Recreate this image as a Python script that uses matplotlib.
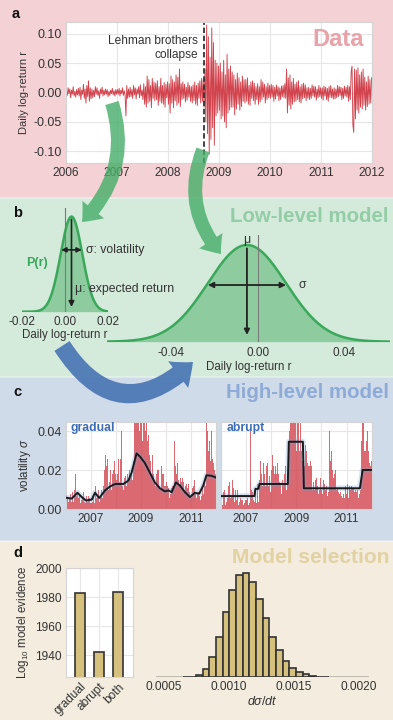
import numpy as np
import matplotlib
matplotlib.use('Agg')
import matplotlib.pyplot as plt
from matplotlib.patches import Rectangle, FancyArrowPatch
from matplotlib.ticker import FormatStrFormatter

plt.rcParams['font.family'] = ['Liberation Sans', 'DejaVu Sans']
plt.rcParams['mathtext.fontset'] = 'custom'
plt.rcParams['mathtext.rm'] = 'Liberation Sans'
plt.rcParams['mathtext.it'] = 'Liberation Sans:italic'
plt.rcParams['axes.unicode_minus'] = True

# ---------------- data ----------------
# daily log-returns (per mille), 15 samples per quarter, 2006 Q1 .. 2011 Q4
returns_permille = [
    3, -5, 8, -2, 6, -9, 4, -3, 10, -6, 2, -8, 5, -4, 7,
    -6, 9, -12, 4, -3, 14, -10, 6, -18, 12, -7, 20, -15, 8, -11,
    6, -9, 4, -7, 10, -3, 8, -5, 3, -10, 6, -2, 9, -6, 4,
    -4, 6, -3, 5, -7, 2, -5, 4, -2, 7, -4, 3, -6, 5, -3,
    5, -3, 7, -6, 4, -2, 8, -5, 3, -4, -40, 12, -10, 6, -8,
    9, -7, 5, -10, 12, -4, 8, -11, 6, -3, 10, -9, 13, -6, 4,
    -12, 15, -20, 10, -25, 28, -18, 22, -15, 12, -26, 24, -10, 18, -14,
    16, -12, 20, -22, 10, -15, 24, -18, 12, -20, 17, -25, 14, -9, 18,
    -20, 15, -35, 28, -18, 22, -26, 18, -14, 30, -22, 26, -18, 40, -24,
    15, -12, 18, -10, 14, -16, 9, -13, 17, -8, 12, -15, 10, -18, 13,
    -14, 18, -20, 12, -22, 16, -10, 20, -18, 24, -15, 22, -25, 40, -50,
    115, -70, 95, -105, 60, -80, 110, -60, 85, -90, 55, -40, 50, -35, 45,
    -30, 50, -45, 35, -40, 55, -50, 30, -60, 65, -35, 40, -30, 45, -25,
    35, -25, 30, -38, 22, -28, 33, -20, 25, -30, 18, -24, 28, -15, 22,
    -18, 22, -15, 25, -20, 12, -22, 18, -10, 20, -14, 16, -20, 10, -12,
    15, -20, 10, -16, 22, -12, 18, -8, 14, -18, 10, -12, 16, -9, 12,
    -10, 14, -8, 12, -15, 9, -11, 13, -6, 10, -14, 8, -12, 11, -7,
    12, -9, 15, -10, 40, -35, 25, -22, 30, -28, 18, -20, 24, -16, 14,
    -15, 18, -12, 20, -16, 10, -18, 14, -11, 16, -9, 13, -14, 8, -10,
    9, -12, 7, -10, 13, -6, 11, -8, 10, -13, 6, -9, 12, -7, 8,
    -10, 8, -13, 11, -6, 9, -12, 7, -15, 10, -8, 12, -9, 6, -11,
    8, -11, 6, -9, 12, -7, 10, -5, 9, -12, 7, -10, 11, -6, 9,
    -8, 12, -15, 10, -12, 35, 45, -55, -68, 40, -45, 38, -30, 42, -35,
    30, -25, 35, -28, 40, -22, 26, -30, 18, -24, 28, -20, 22, -18, 25,
]
samples_per_year = 60
start_year = 2006
lehman_date = 2008.70

# low-level model: two example normal distributions
mu_small, sigma_small = 0.003, 0.005
mu_big, sigma_big = -0.005, 0.018

# high-level model: volatility estimates
gradual_t = [2006.0, 2006.24, 2006.47, 2006.64, 2006.81, 2007.04, 2007.17, 2007.34, 2007.57,
             2007.77, 2007.97, 2008.30, 2008.50, 2008.63, 2008.83, 2008.97, 2009.16, 2009.36,
             2009.56, 2009.76, 2009.96, 2010.10, 2010.23, 2010.40, 2010.56, 2010.76, 2010.96,
             2011.16, 2011.33, 2011.49, 2011.62, 2011.82, 2012.0]
gradual_sigma = [0.0060, 0.0055, 0.0085, 0.0063, 0.0045, 0.0050, 0.0085, 0.0058, 0.0097,
                 0.0117, 0.0130, 0.0130, 0.0147, 0.0188, 0.0287, 0.0270, 0.0238, 0.0188,
                 0.0138, 0.0108, 0.0092, 0.0097, 0.0088, 0.0138, 0.0122, 0.0088, 0.0063,
                 0.0085, 0.0080, 0.0122, 0.0175, 0.0172, 0.0163]
abrupt_t = [2006.0, 2007.33, 2007.37, 2007.49, 2007.53, 2008.66, 2008.70, 2009.26, 2009.30,
            2011.53, 2011.64, 2012.0]
abrupt_sigma = [0.0068, 0.0068, 0.0105, 0.0105, 0.0130, 0.0130, 0.0347, 0.0347, 0.0108,
                0.0108, 0.0202, 0.0202]

# model selection
models = ['gradual', 'abrupt', 'both']
log_evidence = [1982.8, 1942.3, 1983.4]
hist_start, hist_binwidth = 0.000441, 0.0000513
hist_counts = [0, 0, 0, 0, 1, 2, 7, 24, 60, 120, 195, 262, 307, 312, 285, 234,
               177, 122, 82, 50, 29, 17, 9, 4, 2, 1, 0, 0, 0, 0, 0, 0]

# ---------------- figure ----------------
W, H = 393, 720
fig = plt.figure(figsize=(W / 100, H / 100), dpi=100)


def box(l, t, r, b):
    return [l / W, 1 - b / H, (r - l) / W, (b - t) / H]


def fx(x):
    return x / W


def fy(y):
    return 1 - y / H


bands = [(0, 198, '#f3d1d4'), (198, 377, '#d4eadb'), (377, 541, '#cfdbe9'), (541, 720, '#f3ecdf')]
for t, b, c in bands:
    fig.add_artist(Rectangle((0, fy(b)), 1, (b - t) / H, transform=fig.transFigure,
                             facecolor=c, edgecolor='none', zorder=-10))
for yb in (198, 377, 541):
    fig.add_artist(Rectangle((0, fy(yb) - 0.5 / H), 1, 1.2 / H, transform=fig.transFigure,
                             facecolor='white', alpha=0.35, edgecolor='none', zorder=-9))

TXT = '#333333'
RED = '#d1434d'
GREEN = '#3aa85a'
GOLD = '#d6c07d'


def style(ax, fs=8.6):
    ax.set_facecolor('white')
    ax.grid(True, color='#e6e6e6', lw=0.8)
    ax.set_axisbelow(True)
    for s in ax.spines.values():
        s.set_color('#d4d4d4')
        s.set_linewidth(0.8)
    ax.tick_params(length=0, labelcolor=TXT, labelsize=fs, pad=3)


r = np.array(returns_permille) / 1000.0
years = start_year + (np.arange(len(r)) + 0.5) / samples_per_year

# ---- panel a ----
axa = fig.add_axes(box(66, 22, 372, 163))
style(axa)
axa.plot(years, r, color=RED, lw=0.65)
axa.axvline(lehman_date, color='#333333', ls=(0, (3, 1.5)), lw=1.3)
axa.set_xlim(2006, 2012)
axa.set_ylim(-0.12, 0.12)
axa.set_yticks([-0.10, -0.05, 0.0, 0.05, 0.10])
axa.yaxis.set_major_formatter(FormatStrFormatter('%.2f'))
axa.set_xticks(range(2006, 2013))
axa.tick_params(axis='y', labelsize=9)
axa.set_ylabel('Daily log-return r', fontsize=8, color=TXT, labelpad=3)
axa.text(2008.59, 0.076, 'Lehman brothers\ncollapse', ha='right', va='center',
         fontsize=8.6, color=TXT, linespacing=1.15)

# ---- panel b ----
def gauss(x, m, s):
    return np.exp(-0.5 * ((x - m) / s) ** 2) / (s * np.sqrt(2 * np.pi))


axs = fig.add_axes(box(21.7, 208, 108.3, 311.7))
axs.set_facecolor('none')
xs = np.linspace(-0.02, 0.02, 400)
ps = gauss(xs, mu_small, sigma_small)
pk = ps.max()
axs.fill_between(xs, ps, color=GREEN, alpha=0.45, lw=0)
axs.plot(xs, ps, color=GREEN, lw=1.8)
axs.axvline(0, color='#7a7a7a', lw=0.8)
axs.set_xlim(-0.02, 0.02)
axs.set_ylim(0, pk * 1.09)
for s in axs.spines.values():
    s.set_visible(False)
axs.set_yticks([])
axs.set_xticks([-0.02, 0.0, 0.02])
axs.xaxis.set_major_formatter(FormatStrFormatter('%.2f'))
axs.tick_params(length=0, labelcolor=TXT, labelsize=8.5, pad=3)
axs.set_xlabel('Daily log-return r', fontsize=8.3, color=TXT, labelpad=1)
axs.annotate('', xy=(mu_small, pk * 0.05), xytext=(mu_small, pk * 0.97),
             arrowprops=dict(arrowstyle='-|>', color='#222222', lw=1.2, mutation_scale=8,
                             shrinkA=0, shrinkB=0))
axs.annotate('', xy=(mu_small - 0.95 * sigma_small, pk * 0.65),
             xytext=(mu_small + 0.95 * sigma_small, pk * 0.65),
             arrowprops=dict(arrowstyle='<|-|>', color='#222222', lw=1.2, mutation_scale=7,
                             shrinkA=0, shrinkB=0))
axs.text(0.0097, pk * 0.65, 'σ: volatility', fontsize=8.8, color=TXT, va='center', ha='left')
axs.text(0.0046, pk * 0.24, 'μ: expected return', fontsize=8.8, color=TXT, va='center', ha='left')
axs.text(-0.0129, pk * 0.51, 'P(r)', fontsize=9, color=GREEN, fontweight='bold',
         va='center', ha='center')

axb = fig.add_axes(box(106.7, 235, 390, 341.7))
axb.set_facecolor('none')
xb = np.linspace(-0.0697, 0.061, 600)
pb = gauss(xb, mu_big, sigma_big)
pkb = pb.max()
axb.fill_between(xb, pb, color=GREEN, alpha=0.45, lw=0)
axb.plot(xb, pb, color=GREEN, lw=1.8)
axb.axvline(0, color='#7a7a7a', lw=0.8)
axb.set_xlim(-0.0697, 0.061)
axb.set_ylim(0, pkb * 1.103)
for s in axb.spines.values():
    s.set_visible(False)
axb.set_yticks([])
axb.set_xticks([-0.04, 0.0, 0.04])
axb.xaxis.set_major_formatter(FormatStrFormatter('%.2f'))
axb.tick_params(length=0, labelcolor=TXT, labelsize=8.5, pad=4)
axb.set_xlabel('Daily log-return r', fontsize=8.3, color=TXT, labelpad=1)
axb.annotate('', xy=(mu_big, pkb * 0.07), xytext=(mu_big, pkb * 0.965),
             arrowprops=dict(arrowstyle='-|>', color='#222222', lw=1.3, mutation_scale=8,
                             shrinkA=0, shrinkB=0))
axb.annotate('', xy=(mu_big - sigma_big, pkb * 0.586), xytext=(mu_big + sigma_big, pkb * 0.586),
             arrowprops=dict(arrowstyle='<|-|>', color='#222222', lw=1.3, mutation_scale=8,
                             shrinkA=0, shrinkB=0))
axb.text(mu_big, pkb * 1.05, 'μ', fontsize=8.8, color=TXT, ha='center', va='center')
axb.text(0.0186, pkb * 0.586, 'σ', fontsize=8.8, color=TXT, ha='left', va='center')

# ---- panel c ----
BLUE_TXT = '#3b6cb4'
for i, (lt, rt, tt, vv, name) in enumerate([(65.7, 216, gradual_t, gradual_sigma, 'gradual'),
                                              (221, 371.7, abrupt_t, abrupt_sigma, 'abrupt')]):
    ax = fig.add_axes(box(lt, 421.7, rt, 509.3))
    style(ax, fs=8.5)
    ax.bar(years, np.abs(r), width=1 / samples_per_year, color=RED, alpha=0.8, lw=0, zorder=2)
    ax.plot(tt, vv, color='#7b9fd6', lw=4, alpha=0.3, zorder=3, solid_capstyle='butt')
    ax.plot(tt, vv, color='#1a1a1a', lw=1.4, zorder=4)
    ax.set_xlim(2006, 2012)
    ax.set_ylim(0, 0.045)
    ax.set_xticks(range(2006, 2013))
    ax.set_xticklabels(['' if y % 2 == 0 else str(y) for y in range(2006, 2013)])
    ax.set_yticks([0.0, 0.02, 0.04])
    ax.tick_params(axis='y', labelsize=9)
    if i == 0:
        ax.yaxis.set_major_formatter(FormatStrFormatter('%.2f'))
        ax.set_ylabel('volatility $\\sigma$', fontsize=8.3, color=TXT, labelpad=3)
    else:
        ax.set_yticklabels([])
    ax.text(0.035, 0.93, name, transform=ax.transAxes, fontsize=8.8, fontweight='bold',
            color=BLUE_TXT, ha='left', va='center', zorder=5)

# ---- panel d ----
axd = fig.add_axes(box(65.7, 568.3, 133.3, 676.7))
style(axd, fs=8.6)
xpos = np.arange(len(models))
axd.bar(xpos, log_evidence, width=0.55, color=GOLD, edgecolor='#333333', lw=1.2, zorder=2)
axd.set_xlim(-0.75, 2.79)
axd.set_ylim(1925, 2000)
axd.set_yticks([1940, 1960, 1980, 2000])
axd.set_xticks(xpos)
axd.set_xticklabels(models, rotation=45, ha='right', rotation_mode='anchor', fontsize=8.6)
axd.set_ylabel('Log$_{10}$ model evidence', fontsize=8.3, color=TXT, labelpad=3)

axh = fig.add_axes(box(153.3, 568, 371.7, 677.3))
axh.set_facecolor('none')
edges = hist_start + hist_binwidth * np.arange(len(hist_counts))
ecs = ['#333333' if c > 0 else '#b5b0a5' for c in hist_counts]
axh.bar(edges, hist_counts, width=hist_binwidth, align='edge', color=GOLD,
        edgecolor=ecs, lw=1.2)
axh.set_xlim(0.00042, 0.0021)
axh.set_ylim(0, 328)
for s in axh.spines.values():
    s.set_visible(False)
axh.set_yticks([])
axh.set_xticks([0.0005, 0.0010, 0.0015, 0.0020])
axh.xaxis.set_major_formatter(FormatStrFormatter('%.4f'))
axh.tick_params(length=0, labelcolor=TXT, labelsize=8.6, pad=3)
axh.set_xlabel('$d\\sigma/dt$', fontsize=9, color=TXT, labelpad=1)

# ---- titles and panel letters ----
fig.text(fx(364), fy(46), 'Data', fontsize=17, fontweight='bold', color='#e8a2a8',
         ha='right', va='baseline')
fig.text(fx(389), fy(222), 'Low-level model', fontsize=14.7, fontweight='bold', color='#93cda6',
         ha='right', va='baseline')
fig.text(fx(389), fy(398), 'High-level model', fontsize=14.7, fontweight='bold', color='#8eaad6',
         ha='right', va='baseline')
fig.text(fx(389), fy(563), 'Model selection', fontsize=15, fontweight='bold', color='#e2d2a2',
         ha='right', va='baseline')
for lab, x, y in [('a', 12, 18), ('b', 13, 217), ('c', 13, 396), ('d', 13, 557)]:
    fig.text(fx(x), fy(y), lab, fontsize=10.5, fontweight='bold', color='#111111',
             ha='left', va='baseline')

# ---- curved arrows ----
def curved_arrow(p0, p1, rad, color, alpha, tw, hw, hl):
    a = FancyArrowPatch((fx(p0[0]), fy(p0[1])), (fx(p1[0]), fy(p1[1])),
                        transform=fig.transFigure,
                        connectionstyle=f'arc3,rad={rad}',
                        arrowstyle=f'simple,head_width={hw},head_length={hl},tail_width={tw}',
                        mutation_scale=1, facecolor=color, edgecolor='none', alpha=alpha,
                        zorder=20, shrinkA=0, shrinkB=0)
    fig.add_artist(a)


curved_arrow((112, 103), (82, 222), -0.3, '#45ad68', 0.8, 10, 20, 12)
curved_arrow((203, 150), (221, 254), 0.3, '#45ad68', 0.8, 10, 20, 12)
curved_arrow((62, 346), (193, 362), 0.6, '#4a76b4', 0.92, 13, 24, 14)

fig.savefig('out.png', dpi=100)
